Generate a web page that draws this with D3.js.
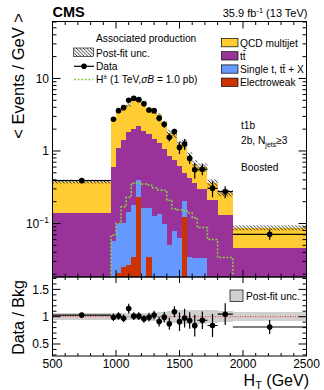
<!DOCTYPE html>
<html><head><meta charset="utf-8">
<script src="https://cdn.jsdelivr.net/npm/d3@7"></script>
<style>body{margin:0;background:#fff}svg{display:block;font-family:"Liberation Sans",Arial,Helvetica,sans-serif}</style>
</head><body><svg id="c" width="324" height="390"></svg>
<script>
// ---------- data ----------
const edges = [500,960,1000,1040,1080,1120,1160,1200,1240,1280,1320,1360,1400,1440,1480,1520,1560,1600,1640,1720,1800,1920,2500];
const dataVals = [0.39,2.74,3.6,3.96,5.0,5.33,5.1,4.49,3.68,3.6,2.83,2.33,1.55,1.85,1.12,1.25,0.79,0.55,0.56,0.306,0.275,0.071];
const ratioErr = [0.05,0.07,0.07,0.07,0.09,0.07,0.07,0.07,0.08,0.08,0.09,0.1,0.11,0.1,0.17,0.17,0.15,0.2,0.16,0.21,0.2,0.13];
const qcd      = [0.238,2.17,2.46,2.65,2.55,3.28,2.85,2.76,2.02,2.05,1.81,1.30,0.93,0.95,0.62,0.79,0.43,0.295,0.296,0.153,0.133,0.041];
const ttbar    = [0.129,0.54,1.0,1.33,1.66,1.82,1.80,1.75,1.53,1.32,1.16,0.95,0.80,0.67,0.55,0.29,0.385,0.33,0.27,0.20,0.12,0.0405];
const singleT  = [0.009,0.0445,0.076,0.076,0.117,0.143,0.164,0.16,0.132,0.123,0.132,0.097,0.048,0.075,0.0595,0.08,0.0328,0.031,0.031,0.011,0.009,0.005];
const ewk      = [0.003,0.012,0.021,0.025,0.027,0.035,0.234,0.006,0.034,0.004,0.004,0.003,0.003,0.003,0.003,0.124,0.002,0.002,0.002,0.001,0.001,0.001];
const signal   = [0,0.069,0.1,0.17,0.23,0.36,0.365,0.35,0.34,0.31,0.29,0.285,0.21,0.16,0.155,0.15,0.14,0.12,0.088,0.06,0.034,0];
const uncRel   = [0.06,0.06,0.06,0.06,0.06,0.06,0.06,0.06,0.07,0.07,0.08,0.09,0.1,0.11,0.12,0.13,0.13,0.13,0.13,0.12,0.1,0.08];
const xTickLabels = [500,1000,1500,2000,2500];
const ratioTickLabels = [0.5,1,1.5];

// ---------- layout ----------
const L=52.5, R=306.5, T1=21.5, B1=277, T2=277, B2=356;
const x = d3.scaleLinear().domain([500,2500]).range([L,R]);
const y = d3.scaleLog().domain([0.0183,61]).range([B1,T1]).clamp(true);
const yr = d3.scaleLinear().domain([0.28,1.727]).range([B2,T2]);
const ymin = y.domain()[0];

const svg = d3.select("#c");
const defs = svg.append("defs");
const pat = defs.append("pattern").attr("id","hatch").attr("patternUnits","userSpaceOnUse").attr("width",3.5).attr("height",3.5);
pat.append("path").attr("d","M0,0L3.5,3.5M-1,2.5L1,4.5M2.5,-1L4.5,1").attr("stroke","#000").attr("stroke-width",0.8);
defs.append("clipPath").attr("id","clipM").append("rect").attr("x",L).attr("y",T1).attr("width",R-L).attr("height",B1-T1);
defs.append("clipPath").attr("id","clipR").append("rect").attr("x",L).attr("y",T2).attr("width",R-L).attr("height",B2-T2);

const rows = edges.slice(0,-1).map((lo,i)=>({lo,hi:edges[i+1],ewk:ewk[i],singleT:singleT[i],ttbar:ttbar[i],qcd:qcd[i]}));
const keys = ["ewk","singleT","ttbar","qcd"];
const colors = {ewk:"#CC3300",singleT:"#6699FF",ttbar:"#993399",qcd:"#FFCC33"};
const series = d3.stack().keys(keys)(rows);
const total = series[series.length-1].map(d=>d[1]);

// ---------- main panel ----------
const gM = svg.append("g").attr("clip-path","url(#clipM)");
series.forEach(s=>{
  gM.selectAll(null).data(s).enter().append("rect")
    .attr("x",d=>x(d.data.lo)).attr("width",d=>x(d.data.hi)-x(d.data.lo))
    .attr("y",d=>y(Math.max(d[1],ymin)))
    .attr("height",d=>y(Math.max(d[0],ymin))-y(Math.max(d[1],ymin)))
    .attr("fill",colors[s.key]).attr("shape-rendering","crispEdges");
});
// signal step line
const sigPts=[];
rows.forEach((r,i)=>{ if(signal[i]>0){ sigPts.push([x(r.lo),y(signal[i])],[x(r.hi),y(signal[i])]); }});
sigPts.unshift([sigPts[0][0],B1]); sigPts.push([sigPts[sigPts.length-1][0],B1]);
gM.append("path").attr("d",d3.line()(sigPts)).attr("fill","none").attr("stroke","#88D040").attr("stroke-width",1.5).attr("stroke-dasharray","2,1.6");
// uncertainty hatch
gM.selectAll(null).data(rows).enter().append("rect")
  .attr("x",d=>x(d.lo)).attr("width",d=>x(d.hi)-x(d.lo))
  .attr("y",(d,i)=>y(total[i]*(1+uncRel[i])))
  .attr("height",(d,i)=>y(total[i]*(1-uncRel[i]))-y(total[i]*(1+uncRel[i])))
  .attr("fill","url(#hatch)");
// data
rows.forEach((r,i)=>{
  const cx=x((r.lo+r.hi)/2), v=dataVals[i], e=ratioErr[i]*total[i];
  gM.append("line").attr("x1",x(r.lo)).attr("x2",x(r.hi)).attr("y1",y(v)).attr("y2",y(v)).attr("stroke","#000").attr("stroke-width",1.2);
  gM.append("line").attr("x1",cx).attr("x2",cx).attr("y1",y(v-e)).attr("y2",y(v+e)).attr("stroke","#000").attr("stroke-width",1.2);
  gM.append("circle").attr("cx",cx).attr("cy",y(v)).attr("r",2.8).attr("fill","#000");
});

// ---------- ratio panel ----------
const gR = svg.append("g").attr("clip-path","url(#clipR)");
gR.selectAll(null).data(rows).enter().append("rect")
  .attr("x",d=>x(d.lo)).attr("width",d=>x(d.hi)-x(d.lo))
  .attr("y",(d,i)=>yr(1+uncRel[i])).attr("height",(d,i)=>yr(1-uncRel[i])-yr(1+uncRel[i]))
  .attr("fill","#d0d0d0").attr("shape-rendering","crispEdges");
gR.append("line").attr("x1",L).attr("x2",R).attr("y1",yr(1)).attr("y2",yr(1)).attr("stroke","#e03030").attr("stroke-width",1).attr("stroke-dasharray","1,1.5");
rows.forEach((r,i)=>{
  const cx=x((r.lo+r.hi)/2), v=dataVals[i]/total[i], e=ratioErr[i];
  gR.append("line").attr("x1",x(r.lo)).attr("x2",x(r.hi)).attr("y1",yr(v)).attr("y2",yr(v)).attr("stroke","#000").attr("stroke-width",1.2);
  gR.append("line").attr("x1",cx).attr("x2",cx).attr("y1",yr(v-e)).attr("y2",yr(v+e)).attr("stroke","#000").attr("stroke-width",1.2);
  gR.append("circle").attr("cx",cx).attr("cy",yr(v)).attr("r",2.8).attr("fill","#000");
});

// ---------- frames & ticks ----------
const ax = svg.append("g").attr("stroke","#000").attr("stroke-width",1);
function ln(x1,y1,x2,y2){ax.append("line").attr("x1",x1).attr("y1",y1).attr("x2",x2).attr("y2",y2);}
[[T1,B1],[T2,B2]].forEach(([t,b])=>ax.append("rect").attr("x",L).attr("y",t).attr("width",R-L).attr("height",b-t).attr("fill","none"));
d3.range(500,2501,100).forEach(v=>{
  const maj=v%500===0, X=x(v);
  const l1=maj?7:3.5, l2=maj?6:3;
  ln(X,B1,X,B1-l1); ln(X,T1,X,T1+l1);
  ln(X,B2,X,B2-l2); ln(X,T2,X,T2+l2);
});
[-2,-1,0,1].forEach(d=>d3.range(1,10).forEach(m=>{
  const v=m*Math.pow(10,d); if(v<ymin||v>y.domain()[1]) return;
  const len=m===1?8:4, Y=y(v);
  ln(L,Y,L+len,Y); ln(R,Y,R-len,Y);
}));
d3.range(3,18).forEach(k=>{
  const v=k/10, Y=yr(v), maj=(k%5===0), len=maj?8:4;
  ln(L,Y,L+len,Y); ln(R,Y,R-len,Y);
});

// ---------- labels ----------
const txt=(xx,yy,s,opt={})=>{const t=svg.append("text").attr("x",xx).attr("y",yy).text(s).attr("font-size",opt.size||12).attr("fill","#000");
  if(opt.anchor) t.attr("text-anchor",opt.anchor); if(opt.weight) t.attr("font-weight",opt.weight); return t;};
xTickLabels.forEach(v=>txt(x(v),367.5,v,{anchor:"middle"}));
ratioTickLabels.forEach(v=>txt(49,yr(v)+4.3,v,{anchor:"end"}));
txt(49,y(10)+4.3,"10",{anchor:"end"});
txt(49,y(1)+4.3,"1",{anchor:"end"});
const tm=txt(49,y(0.1)+4.3,"10",{anchor:"end"}); tm.append("tspan").attr("dy",-5).attr("font-size",8.5).text("\u22121");

svg.append("text").attr("transform","translate(24,13) rotate(-90)").attr("text-anchor","end").attr("font-size",16.5).text("< Events / GeV >");
svg.append("text").attr("transform","translate(24,317.5) rotate(-90)").attr("text-anchor","middle").attr("font-size",16).text("Data / Bkg");
const xl=txt(309,386,"H",{anchor:"end",size:16}); xl.append("tspan").attr("dy",3).attr("font-size",11).text("T"); xl.append("tspan").attr("dy",-3).text(" (GeV)");

txt(52.5,17.3,"CMS",{size:14.5,weight:"bold"});
const lu=txt(307.5,17,"35.9 fb",{anchor:"end",size:11}); lu.append("tspan").attr("dy",-4.5).attr("font-size",7.5).text("-1"); lu.append("tspan").attr("dy",4.5).text(" (13 TeV)");

// left legend
const LS=10.2;
txt(96,41.5,"Associated production",{size:LS});
svg.append("rect").attr("x",73.5).attr("y",48).attr("width",20).attr("height",8.5).attr("fill","url(#hatch)").attr("stroke","#000").attr("stroke-width",0.6);
txt(96,56.5,"Post-fit unc.",{size:LS});
svg.append("line").attr("x1",74).attr("x2",94).attr("y1",66.3).attr("y2",66.3).attr("stroke","#000").attr("stroke-width",1.2);
svg.append("circle").attr("cx",84).attr("cy",66.3).attr("r",2.8);
txt(96,70,"Data",{size:LS});
svg.append("line").attr("x1",74).attr("x2",93).attr("y1",79.5).attr("y2",79.5).attr("stroke","#88D040").attr("stroke-width",1.5).attr("stroke-dasharray","2,1.6");
const hl=txt(96,83.3,"H",{size:LS}); hl.append("tspan").attr("dy",-4).attr("font-size",7).text("\u00b1");
hl.append("tspan").attr("dy",4).text(" (1 TeV,"); hl.append("tspan").attr("font-style","italic").text("\u03c3B"); hl.append("tspan").text(" = 1.0 pb)");

// right legend
const rl=[["qcd","QCD multijet"],["ttbar","tt\u0304"],["singleT","Single t, tt\u0304 + X"],["ewk","Electroweak"]];
rl.forEach(([k,s],i)=>{
  const top=38.5+i*13.2;
  svg.append("rect").attr("x",221.5).attr("y",top).attr("width",16.5).attr("height",8.3).attr("fill",colors[k]).attr("stroke","#000").attr("stroke-width",0.7);
  txt(240,top+8,s,{size:LS});
});
txt(241,129,"t1b",{size:LS});
const nj=txt(241,144,"2b, N",{size:LS}); nj.append("tspan").attr("dy",3).attr("font-size",7).text("jets"); nj.append("tspan").attr("dy",-3).text("\u22653");
txt(241,170.5,"Boosted",{size:LS});

// ratio legend
svg.append("rect").attr("x",230).attr("y",290).attr("width",13).attr("height",11.5).attr("fill","#d0d0d0").attr("stroke","#000").attr("stroke-width",0.7);
txt(246,299.5,"Post-fit unc.",{size:LS});
</script></body></html>
